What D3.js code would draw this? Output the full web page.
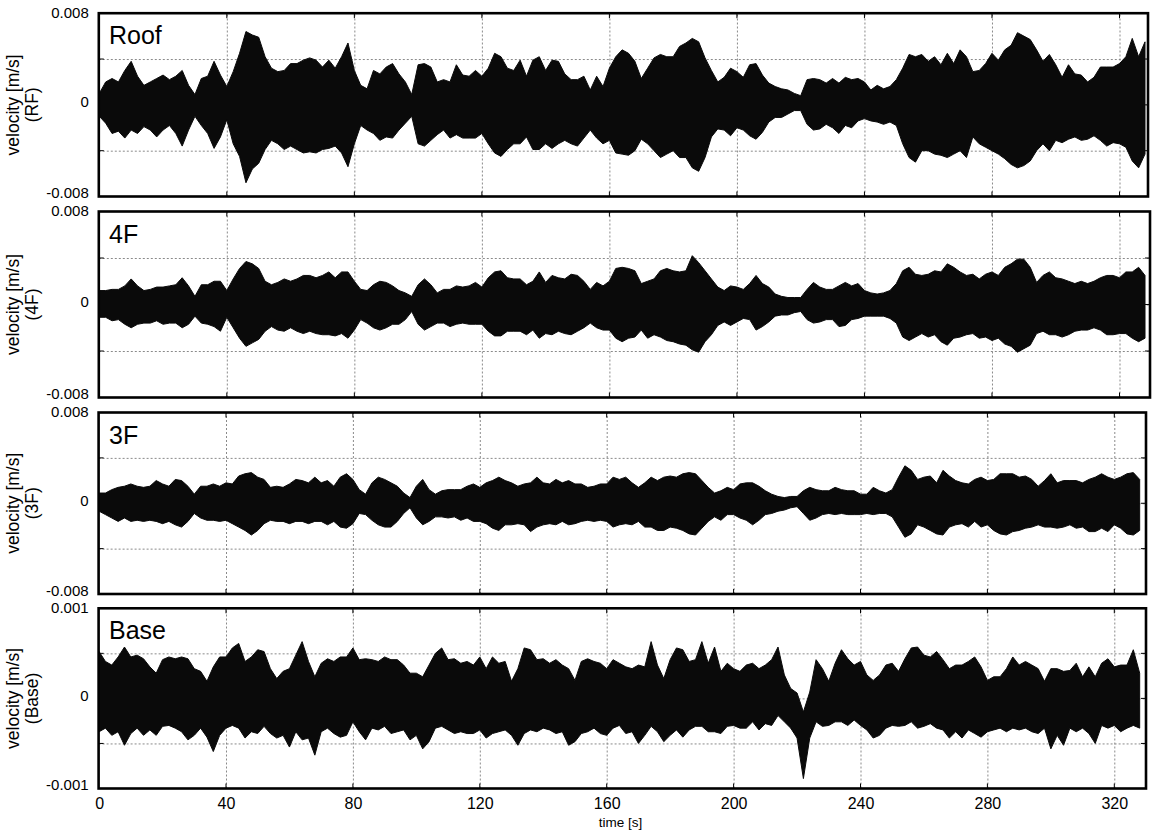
<!DOCTYPE html>
<html><head><meta charset="utf-8">
<script src="https://cdn.jsdelivr.net/npm/d3@7"></script>
<style>body{margin:0;background:#fff}svg{display:block}</style>
</head><body>
<svg id="chart" width="1158" height="834"></svg>
<script>
// sample times [s] (envelope read every 2 s)
const timeS = [0,2,4,6,8,10,12,14,16,18,20,22,24,26,28,30,32,34,36,38,40,42,44,46,48,50,52,54,56,58,60,62,64,66,68,70,72,74,76,78,80,82,84,86,88,90,92,94,96,98,100,102,104,106,108,110,112,114,116,118,120,122,124,126,128,130,132,134,136,138,140,142,144,146,148,150,152,154,156,158,160,162,164,166,168,170,172,174,176,178,180,182,184,186,188,190,192,194,196,198,200,202,204,206,208,210,212,214,216,218,220,222,224,226,228,230,232,234,236,238,240,242,244,246,248,250,252,254,256,258,260,262,264,266,268,270,272,274,276,278,280,282,284,286,288,290,292,294,296,298,300,302,304,306,308,310,312,314,316,318,320,322,324,326,328];

// velocity envelopes in units of 0.001 m/s (upper / lower extremes)
const roofUpper = [1.0,2.0,2.3,2.0,3.0,3.8,2.5,1.7,2.0,2.3,2.6,2.2,2.5,3.0,1.7,0.9,2.3,2.5,3.8,2.6,1.6,2.9,4.5,6.4,6.1,5.9,4.2,3.2,2.9,3.0,3.6,3.6,3.9,4.1,3.9,3.3,3.9,3.2,4.2,5.4,3.0,1.7,1.4,3.0,2.7,3.3,3.6,2.7,2.0,0.9,3.5,3.6,3.3,2.0,2.2,2.0,3.5,2.6,2.5,3.0,2.5,3.2,4.5,4.2,3.2,3.0,3.9,2.5,3.9,4.2,3.0,3.9,3.8,2.7,2.2,2.2,2.5,1.3,2.5,1.6,3.2,4.2,4.8,4.5,3.8,2.3,3.2,4.1,4.4,4.2,4.2,5.1,5.4,5.8,5.5,4.1,3.0,2.0,2.4,3.2,2.9,2.4,3.5,3.6,2.6,1.9,1.6,1.4,1.3,1.0,0.8,2.2,2.3,2.2,1.9,2.3,1.9,2.4,2.2,2.3,2.0,1.3,1.7,1.4,1.6,2.2,3.2,4.4,4.2,4.4,3.8,4.2,3.5,4.5,3.6,4.8,4.2,2.9,3.0,3.6,4.5,3.9,4.8,5.2,6.3,6.0,5.7,4.8,3.8,4.4,3.5,2.4,3.5,2.7,2.6,2.0,2.4,3.3,3.3,3.3,3.6,4.2,5.8,4.2,5.5];
const roofLower = [-1.0,-1.6,-2.5,-2.3,-2.9,-2.2,-2.5,-1.9,-2.2,-2.8,-2.2,-1.8,-2.5,-3.6,-2.2,-1.0,-1.8,-2.5,-3.8,-2.8,-1.3,-3.4,-4.5,-6.8,-5.6,-5.1,-3.9,-3.1,-3.4,-3.9,-3.6,-3.9,-4.2,-4.1,-4.2,-3.9,-3.8,-3.6,-4.2,-5.4,-3.4,-1.8,-2.2,-2.5,-3.1,-2.8,-2.9,-2.2,-1.6,-1.0,-3.4,-3.6,-3.1,-2.6,-2.2,-2.9,-2.6,-2.9,-2.9,-2.9,-2.5,-3.4,-4.2,-4.5,-3.9,-3.4,-3.4,-2.8,-3.9,-3.9,-3.4,-3.8,-3.4,-3.1,-3.4,-3.6,-2.9,-2.2,-2.9,-3.4,-3.1,-4.2,-4.3,-4.4,-4.0,-3.0,-3.4,-4.0,-4.6,-4.3,-4.0,-4.6,-4.6,-5.5,-5.8,-4.6,-2.8,-2.1,-2.2,-2.7,-2.0,-2.2,-2.7,-3.0,-2.4,-1.5,-1.1,-1.1,-0.8,-0.5,-0.5,-1.7,-2.2,-2.1,-1.7,-2.0,-2.5,-1.8,-2.0,-1.4,-1.2,-1.4,-1.5,-1.7,-1.5,-1.8,-3.4,-4.6,-5.0,-4.0,-4.0,-4.3,-4.4,-4.6,-4.3,-4.0,-4.6,-2.8,-3.4,-3.7,-4.0,-4.3,-4.7,-5.2,-5.5,-5.3,-4.9,-4.0,-3.4,-4.0,-3.1,-3.3,-3.0,-2.8,-3.1,-3.0,-2.7,-3.1,-3.6,-3.3,-3.4,-3.7,-4.9,-5.5,-4.3];

const f4Upper = [1.2,1.2,1.3,1.3,1.6,2.2,1.6,1.2,1.3,1.5,1.5,1.6,1.7,2.3,1.6,0.7,1.7,1.7,2.0,2.0,1.2,2.2,3.1,3.7,3.5,3.1,2.0,1.7,1.9,2.2,2.0,2.2,2.5,2.5,2.3,2.5,2.8,2.3,2.8,2.8,2.0,1.3,1.2,1.7,2.0,1.9,1.6,1.2,1.0,0.7,1.7,2.2,1.7,1.0,1.3,1.3,1.6,1.5,1.6,1.9,1.5,2.3,2.8,2.9,2.3,2.2,2.2,1.7,2.0,2.8,1.9,2.5,2.3,2.2,2.6,2.5,2.0,1.3,1.9,1.6,2.0,3.1,3.2,3.1,2.9,1.8,2.0,2.2,2.9,3.1,2.9,2.8,2.9,4.2,3.6,2.9,2.2,1.5,1.2,1.6,1.5,1.3,1.8,2.5,1.8,1.5,0.9,0.7,0.6,0.6,0.6,1.3,1.9,1.5,1.3,1.3,1.6,1.9,1.6,1.8,1.2,1.0,0.9,1.0,1.2,1.8,2.9,3.2,2.6,2.5,2.6,2.9,2.8,3.5,3.2,2.8,2.5,2.6,2.2,2.6,2.8,2.5,3.2,3.5,3.9,3.9,3.2,1.9,2.5,2.8,2.3,2.2,2.0,1.8,2.0,1.8,2.0,2.3,2.5,2.5,2.3,2.8,2.8,3.2,2.5];
const f4Lower = [-1.1,-1.1,-1.4,-1.3,-1.7,-2.0,-1.7,-1.6,-1.6,-1.4,-1.7,-1.6,-1.6,-2.0,-1.7,-1.0,-1.6,-1.7,-1.9,-2.3,-1.1,-2.0,-2.9,-3.6,-3.3,-3.0,-2.3,-1.9,-2.2,-2.3,-2.0,-2.3,-2.5,-2.3,-2.5,-2.6,-2.6,-2.7,-2.5,-2.9,-2.2,-1.3,-1.6,-2.0,-2.2,-2.0,-1.7,-1.7,-1.3,-0.6,-1.7,-2.2,-1.9,-1.6,-1.6,-1.9,-1.7,-1.6,-1.7,-1.7,-1.7,-2.3,-2.7,-2.7,-2.3,-2.3,-2.3,-2.6,-2.2,-2.9,-2.5,-2.6,-2.3,-2.5,-2.6,-2.3,-2.0,-1.6,-2.0,-2.2,-2.2,-2.9,-3.2,-2.9,-2.8,-2.2,-2.9,-2.6,-2.8,-3.1,-3.2,-3.4,-3.5,-3.9,-4.1,-3.2,-2.6,-1.8,-1.5,-1.8,-1.5,-1.2,-1.3,-2.2,-1.9,-1.5,-1.0,-0.9,-0.9,-0.7,-0.6,-1.3,-1.6,-1.5,-1.3,-1.3,-1.9,-1.8,-1.3,-1.2,-1.0,-1.0,-1.0,-1.0,-1.2,-1.6,-2.8,-3.1,-2.8,-2.5,-2.8,-2.6,-3.2,-3.5,-2.9,-2.8,-2.6,-2.5,-2.9,-2.8,-3.1,-2.9,-3.4,-3.6,-4.1,-3.8,-3.5,-2.5,-2.3,-2.6,-2.6,-2.8,-2.6,-2.3,-2.2,-2.2,-2.0,-2.2,-2.6,-2.6,-2.5,-2.5,-2.9,-3.2,-2.9];

const f3Upper = [0.9,0.9,1.2,1.4,1.5,1.7,1.5,1.4,1.5,2.0,1.7,1.5,2.1,2.0,1.5,0.8,1.5,1.5,1.7,1.5,1.8,1.7,2.4,2.6,2.7,2.3,2.1,1.4,1.5,1.4,1.7,2.1,2.0,1.8,2.3,1.8,2.0,1.5,2.3,2.6,2.1,1.2,0.8,1.8,2.3,2.1,1.8,1.5,0.9,0.5,1.5,2.1,1.2,0.8,1.1,1.2,1.2,1.2,1.5,1.7,1.4,1.8,2.0,2.3,2.0,1.8,1.5,1.7,1.8,2.3,1.8,1.7,2.1,1.8,2.0,1.7,1.7,1.4,1.5,1.7,1.7,2.3,2.1,2.3,1.8,1.4,1.8,2.3,2.0,2.3,2.4,2.3,2.6,2.7,2.6,2.0,1.4,0.9,1.1,1.4,1.2,1.7,1.8,1.8,1.5,1.1,0.8,0.6,0.5,0.6,0.6,1.1,1.4,1.2,1.1,1.1,1.4,1.2,1.1,1.1,0.8,0.8,1.4,1.1,0.9,1.2,2.3,3.3,2.9,2.1,2.3,2.4,1.8,2.9,2.4,2.0,1.8,1.7,2.1,2.3,2.0,2.1,2.6,2.6,2.6,2.3,2.4,2.1,1.5,2.0,2.6,1.8,2.0,2.0,2.0,1.8,2.1,2.3,2.6,2.3,2.1,2.3,2.6,2.7,2.1];
const f3Lower = [-0.7,-1.0,-1.3,-1.6,-1.3,-1.6,-1.5,-1.6,-1.5,-1.6,-1.8,-1.6,-1.9,-2.1,-1.6,-0.9,-1.3,-1.5,-1.5,-1.6,-1.5,-1.8,-2.1,-2.4,-2.8,-2.4,-1.8,-1.5,-1.6,-1.6,-1.8,-1.6,-1.6,-1.8,-1.6,-1.6,-1.9,-1.6,-2.1,-2.2,-1.8,-0.9,-1.0,-1.5,-1.9,-2.1,-2.1,-1.6,-0.9,-0.4,-1.3,-1.9,-1.6,-1.2,-1.2,-1.3,-1.2,-1.5,-1.3,-1.6,-1.6,-1.8,-2.2,-2.4,-1.9,-1.9,-1.8,-1.9,-2.5,-2.1,-1.9,-1.8,-1.9,-1.6,-1.9,-1.8,-1.6,-1.5,-1.6,-1.5,-1.6,-2.1,-1.9,-1.8,-1.9,-1.6,-2.1,-2.1,-2.4,-2.4,-2.1,-2.2,-2.4,-2.7,-2.8,-2.2,-1.6,-1.2,-1.5,-1.0,-1.0,-1.3,-1.5,-1.9,-1.5,-1.0,-0.9,-0.7,-0.6,-0.4,-0.3,-0.9,-1.5,-1.3,-1.0,-0.9,-1.0,-0.9,-1.0,-1.0,-1.0,-0.9,-1.0,-0.9,-0.9,-1.2,-2.1,-3.0,-2.7,-1.9,-2.1,-2.4,-2.7,-2.8,-2.1,-1.9,-1.8,-2.1,-1.6,-2.1,-1.9,-2.4,-2.7,-2.8,-2.5,-2.4,-2.2,-2.1,-1.9,-2.1,-2.1,-2.2,-2.1,-1.9,-2.2,-2.1,-2.5,-2.5,-2.2,-2.5,-1.9,-2.2,-2.7,-2.8,-2.4];

const baseUpper = [0.52,0.41,0.37,0.46,0.57,0.46,0.48,0.44,0.35,0.28,0.43,0.46,0.44,0.46,0.44,0.33,0.30,0.19,0.35,0.46,0.46,0.56,0.61,0.41,0.46,0.54,0.52,0.33,0.22,0.30,0.33,0.48,0.63,0.41,0.24,0.39,0.44,0.41,0.46,0.46,0.56,0.43,0.44,0.43,0.41,0.46,0.43,0.43,0.37,0.28,0.28,0.24,0.37,0.50,0.56,0.43,0.44,0.39,0.41,0.37,0.46,0.33,0.46,0.39,0.41,0.19,0.33,0.56,0.54,0.43,0.44,0.39,0.43,0.37,0.33,0.20,0.41,0.44,0.41,0.39,0.33,0.43,0.39,0.35,0.33,0.37,0.35,0.63,0.37,0.22,0.43,0.56,0.54,0.41,0.43,0.63,0.39,0.57,0.30,0.39,0.33,0.30,0.37,0.39,0.33,0.37,0.43,0.57,0.26,0.11,0.06,-0.15,0.07,0.43,0.33,0.19,0.39,0.54,0.44,0.37,0.41,0.26,0.20,0.26,0.37,0.39,0.30,0.44,0.56,0.57,0.48,0.46,0.52,0.43,0.33,0.37,0.37,0.41,0.46,0.35,0.20,0.24,0.24,0.33,0.46,0.37,0.41,0.37,0.33,0.19,0.33,0.33,0.30,0.31,0.39,0.24,0.35,0.24,0.39,0.44,0.35,0.37,0.37,0.54,0.28];
const baseLower = [-0.37,-0.33,-0.41,-0.37,-0.52,-0.39,-0.33,-0.41,-0.35,-0.41,-0.31,-0.30,-0.33,-0.37,-0.46,-0.41,-0.33,-0.43,-0.59,-0.41,-0.33,-0.30,-0.33,-0.44,-0.37,-0.39,-0.31,-0.39,-0.44,-0.41,-0.54,-0.37,-0.46,-0.44,-0.63,-0.37,-0.33,-0.39,-0.43,-0.41,-0.26,-0.37,-0.46,-0.33,-0.35,-0.31,-0.39,-0.37,-0.35,-0.46,-0.41,-0.56,-0.48,-0.33,-0.31,-0.35,-0.39,-0.37,-0.39,-0.39,-0.35,-0.44,-0.39,-0.37,-0.35,-0.41,-0.52,-0.39,-0.35,-0.37,-0.33,-0.35,-0.39,-0.37,-0.52,-0.48,-0.39,-0.37,-0.33,-0.39,-0.41,-0.33,-0.30,-0.39,-0.37,-0.50,-0.41,-0.31,-0.37,-0.48,-0.41,-0.35,-0.43,-0.35,-0.31,-0.31,-0.37,-0.37,-0.39,-0.31,-0.30,-0.33,-0.33,-0.26,-0.35,-0.28,-0.30,-0.19,-0.26,-0.33,-0.44,-0.89,-0.44,-0.26,-0.31,-0.30,-0.26,-0.26,-0.30,-0.24,-0.30,-0.35,-0.44,-0.41,-0.33,-0.30,-0.31,-0.30,-0.26,-0.33,-0.31,-0.28,-0.33,-0.35,-0.44,-0.37,-0.44,-0.35,-0.39,-0.43,-0.37,-0.35,-0.33,-0.37,-0.33,-0.35,-0.33,-0.37,-0.39,-0.33,-0.56,-0.41,-0.52,-0.33,-0.37,-0.33,-0.39,-0.50,-0.30,-0.33,-0.30,-0.37,-0.33,-0.30,-0.33];

const panelNames = ["Roof", "4F", "3F", "Base"];
const axisSubLabels = ["(RF)", "(4F)", "(3F)", "(Base)"];
const yLimit = [8, 8, 8, 1];            // 0.001 m/s
const yGrid = [[-4,0,4],[-4,0,4],[-4,0,4],[-0.5,0,0.5]];
const yTickLabels = [["-0.008","0","0.008"],["-0.008","0","0.008"],["-0.008","0","0.008"],["-0.001","0","0.001"]];
const xTicks = [0, 40, 80, 120, 160, 200, 240, 280, 320];
const xTickLabels = ["0","40","80","120","160","200","240","280","320"];
const xTitle = "time [s]";
const yTitle = "velocity [m/s]";

const series = [
  {upper: roofUpper, lower: roofLower},
  {upper: f4Upper, lower: f4Lower},
  {upper: f3Upper, lower: f3Lower},
  {upper: baseUpper, lower: baseLower}
];

// layout (pixels)
const layout = [
  {top: 13.2, bottom: 196.5, px0: 99.3, px320: 1119.5, right: 1148},
  {top: 211.5, bottom: 397.5, px0: 99.3, px320: 1119.5, right: 1150},
  {top: 412.5, bottom: 594, px0: 99.1, px320: 1114.3, right: 1146},
  {top: 608.3, bottom: 788.5, px0: 99.1, px320: 1114.3, right: 1146}
];
const FONT = "'Liberation Sans', Arial, Helvetica, sans-serif";

const svg = d3.select("#chart");
svg.append("rect").attr("width", 1158).attr("height", 834).attr("fill", "#fff");

layout.forEach((L, i) => {
  const x = d3.scaleLinear().domain([0, 320]).range([L.px0, L.px320]);
  const y = d3.scaleLinear().domain([-yLimit[i], yLimit[i]]).range([L.bottom, L.top]);
  const left = L.px0 - 0.5, w = L.right - left, h = L.bottom - L.top;
  const g = svg.append("g");

  const clipId = "clip" + i;
  svg.append("clipPath").attr("id", clipId).append("rect")
    .attr("x", left).attr("y", L.top).attr("width", w).attr("height", h);

  // vertical grid
  g.append("g").attr("transform", `translate(0,${L.bottom})`)
    .call(d3.axisBottom(x).tickValues(xTicks.slice(1)).tickSize(-h).tickFormat(""))
    .call(s => s.select(".domain").remove())
    .call(s => s.selectAll("line").attr("stroke", "#8a8a8a").attr("stroke-width", 1).attr("stroke-dasharray", "2,2"));
  // horizontal grid
  g.append("g").attr("transform", `translate(${left},0)`)
    .call(d3.axisRight(y).tickValues(yGrid[i]).tickSize(w).tickFormat(""))
    .call(s => s.select(".domain").remove())
    .call(s => s.selectAll("line").attr("stroke", "#8a8a8a").attr("stroke-width", 1).attr("stroke-dasharray", "2,2"));

  // inward ticks
  const tk = g.append("g").attr("stroke", "#000").attr("stroke-width", 1);
  xTicks.slice(1).forEach(t => {
    tk.append("line").attr("x1", x(t)).attr("x2", x(t)).attr("y1", L.bottom).attr("y2", L.bottom - 5);
    tk.append("line").attr("x1", x(t)).attr("x2", x(t)).attr("y1", L.top).attr("y2", L.top + 5);
  });
  yGrid[i].forEach(v => {
    tk.append("line").attr("x1", L.right).attr("x2", L.right - 5).attr("y1", y(v)).attr("y2", y(v));
    tk.append("line").attr("x1", left).attr("x2", left + 5).attr("y1", y(v)).attr("y2", y(v));
  });

  // signal envelope
  const S = series[i];
  const data = timeS.map((t, k) => ({t, hi: S.upper[k], lo: S.lower[k]}));
  const area = d3.area().x(d => x(d.t)).y0(d => y(d.lo)).y1(d => y(d.hi)).curve(d3.curveLinear);
  g.append("path").datum(data).attr("d", area)
    .attr("clip-path", `url(#${clipId})`)
    .attr("fill", "#0a0a0a").attr("stroke", "#0a0a0a").attr("stroke-width", 1).attr("stroke-linejoin", "miter");

  // frame
  g.append("rect").attr("x", left).attr("y", L.top).attr("width", w).attr("height", h)
    .attr("fill", "none").attr("stroke", "#000").attr("stroke-width", 2.6);

  // y tick labels (bottom one nudged up, as in the reference)
  const labelShift = v => v === 0 ? -3 : (v < 0 ? -3.5 : -0.5);
  const yl = g.append("g").attr("transform", `translate(${left - 10},0)`)
    .call(d3.axisLeft(y).tickValues([-yLimit[i], 0, yLimit[i]]).tickSize(0).tickPadding(0)
      .tickFormat((v, k) => yTickLabels[i][k]));
  yl.select(".domain").remove();
  yl.selectAll(".tick").attr("transform", v => `translate(0,${y(v) + labelShift(v)})`);
  yl.selectAll("text").attr("font-family", FONT).attr("font-size", 15).attr("fill", "#000")
    .attr("dy", "0.35em");

  // y title (two lines)
  const cy = (L.top + L.bottom) / 2;
  g.append("text").attr("transform", `translate(19,${cy}) rotate(-90)`)
    .attr("text-anchor", "middle").attr("font-family", FONT).attr("font-size", 17.5).text(yTitle);
  g.append("text").attr("transform", `translate(37.5,${cy}) rotate(-90)`)
    .attr("text-anchor", "middle").attr("font-family", FONT).attr("font-size", 17.5).text(axisSubLabels[i]);

  // panel name
  g.append("text").attr("x", 109).attr("y", L.top + 31).attr("font-family", FONT)
    .attr("font-size", 25).text(panelNames[i]);

  // x tick labels (bottom panel only)
  if (i === layout.length - 1) {
    const xa = g.append("g").attr("transform", `translate(0,${L.bottom + 9})`)
      .call(d3.axisBottom(x).tickValues(xTicks).tickSize(0).tickPadding(0)
        .tickFormat((v, k) => xTickLabels[k]));
    xa.select(".domain").remove();
    xa.selectAll("text").attr("font-family", FONT).attr("font-size", 16).attr("fill", "#000");
    g.append("text").attr("x", (L.px0 + L.right) / 2 - 2).attr("y", 827).attr("text-anchor", "middle")
      .attr("font-family", FONT).attr("font-size", 13.5).text(xTitle);
  }
});
</script>
</body></html>
